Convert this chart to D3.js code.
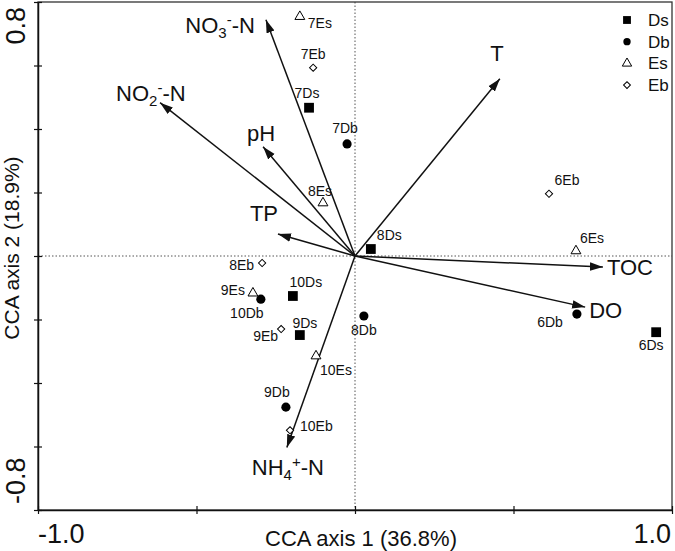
<!DOCTYPE html>
<html>
<head>
<meta charset="utf-8">
<script src="https://cdn.jsdelivr.net/npm/d3@7/dist/d3.min.js"></script>
<style>
  html, body { margin: 0; padding: 0; background: #fff; }
  svg { display: block; font-family: "Liberation Sans", Arial, sans-serif; }
</style>
</head>
<body>
<svg id="chart" width="675" height="551"></svg>
<script>
// ---------- DATA ----------
const sampleNames = ["7Es","7Eb","7Ds","7Db","8Es","8Ds","8Db","8Eb","9Es","10Db","10Ds","9Eb","9Ds","10Es","9Db","10Eb","6Eb","6Es","6Db","6Ds"];
const sampleGroups = ["Es","Eb","Ds","Db","Es","Ds","Db","Eb","Es","Db","Ds","Eb","Ds","Es","Db","Eb","Eb","Es","Db","Ds"];
const sampleAxis1 = [-0.174,-0.132,-0.145,-0.025,-0.101,0.050,0.028,-0.293,-0.322,-0.297,-0.196,-0.233,-0.174,-0.123,-0.218,-0.205,0.612,0.697,0.700,0.950];
const sampleAxis2 = [0.754,0.593,0.467,0.353,0.167,0.022,-0.189,-0.022,-0.117,-0.136,-0.126,-0.230,-0.249,-0.315,-0.476,-0.549,0.196,0.016,-0.183,-0.240];

const envNames = ["NO3","NO2","pH","T","TP","TOC","DO","NH4"];
const envAxis1 = [-0.281,-0.615,-0.290,0.457,-0.243,0.782,0.726,-0.215];
const envAxis2 = [0.744,0.483,0.344,0.558,0.069,-0.035,-0.161,-0.603];
// label text parts: [text, kind]  kind: "" normal, "sub", "sup"
const envLabelParts = [
  [["NO",""],["3","sub"],["-","sup"],["-N",""]],
  [["NO",""],["2","sub"],["-","sup"],["-N",""]],
  [["pH",""]],
  [["T",""]],
  [["TP",""]],
  [["TOC",""]],
  [["DO",""]],
  [["NH",""],["4","sub"],["+","sup"],["-N",""]]
];

const legendGroups = ["Ds","Db","Es","Eb"];
const xTickValues = [-1,-0.5,0,0.5,1];
const yTickValues = [-0.8,-0.6,-0.4,-0.2,0,0.2,0.4,0.6,0.8];
const xEndLabels = ["-1.0","1.0"];
const yEndLabels = ["-0.8","0.8"];
const xTitle = "CCA axis 1 (36.8%)";
const yTitle = "CCA axis 2 (18.9%)";

// ---------- LAYOUT (label offsets in px: dx, dy, anchor) ----------
const sampleLabelLayout = {
  "7Es":[8,11,"start"], "7Eb":[0,-9,"middle"], "7Ds":[-2,-10,"middle"], "7Db":[-2,-11,"middle"],
  "8Es":[-3,-7,"middle"], "8Ds":[6,-9,"start"], "8Db":[0,19,"middle"], "8Eb":[-8,7,"end"],
  "9Es":[-8,2,"end"], "10Db":[-14,19,"middle"], "10Ds":[13,-9,"middle"], "9Eb":[-3,12,"end"],
  "9Ds":[5,-7,"middle"], "10Es":[4,19,"start"], "9Db":[-9,-10,"middle"], "10Eb":[10,1,"start"],
  "6Eb":[18,-9,"middle"], "6Es":[16,-8,"middle"], "6Db":[-14,13,"end"], "6Ds":[-5,18,"middle"]
};
const envLabelLayout = {
  "NO3":[-11,13,"end"], "NO2":[-44,-2,"start"], "pH":[-2,-6,"middle"], "T":[-3,-18,"middle"],
  "TP":[-14,-13,"middle"], "TOC":[4,8,"start"], "DO":[4,11,"start"], "NH4":[1,28,"middle"]
};

// ---------- CHART ----------
const svg = d3.select("#chart");
const x = d3.scaleLinear().domain([-1, 1]).range([38, 672]);
const y = d3.scaleLinear().domain([-0.8, 0.8]).range([510, 2]);
const ink = "#111";

// dotted zero lines
svg.append("line").attr("x1", x(-1)).attr("x2", x(1)).attr("y1", y(0)).attr("y2", y(0))
  .attr("stroke", "#555").attr("stroke-width", 1).attr("stroke-dasharray", "1.5,2");
svg.append("line").attr("x1", x(0)).attr("x2", x(0)).attr("y1", y(0.8)).attr("y2", y(-0.8))
  .attr("stroke", "#555").attr("stroke-width", 1).attr("stroke-dasharray", "1.5,2");

// frame
svg.append("rect").attr("x", x(-1)).attr("y", y(0.8)).attr("width", x(1) - x(-1)).attr("height", y(-0.8) - y(0.8))
  .attr("fill", "none").attr("stroke", "#333").attr("stroke-width", 1.3);

// axes with crossing ticks
const gx = svg.append("g").attr("transform", `translate(0,${y(-0.8)})`)
  .call(d3.axisBottom(x).tickValues(xTickValues).tickFormat("").tickSizeOuter(0));
gx.selectAll(".tick line").attr("y1", -4).attr("y2", 4).attr("stroke", ink).attr("stroke-width", 1.2);
gx.select(".domain").attr("stroke", ink).attr("stroke-width", 1.5);
const gy = svg.append("g").attr("transform", `translate(${x(-1)},0)`)
  .call(d3.axisLeft(y).tickValues(yTickValues).tickFormat("").tickSizeOuter(0));
gy.selectAll(".tick line").attr("x1", -4).attr("x2", 4).attr("stroke", ink).attr("stroke-width", 1.2);
gy.select(".domain").attr("stroke", ink).attr("stroke-width", 1.5);

// end tick labels
svg.append("text").attr("x", x(-1)).attr("y", 543).attr("text-anchor", "start")
  .attr("font-size", 27).attr("fill", ink).text(xEndLabels[0]);
svg.append("text").attr("x", x(1) - 1).attr("y", 543).attr("text-anchor", "end")
  .attr("font-size", 27).attr("fill", ink).text(xEndLabels[1]);
svg.append("text").attr("transform", `translate(25,${y(-0.8) - 6}) rotate(-90)`).attr("text-anchor", "start")
  .attr("font-size", 27).attr("fill", ink).text(yEndLabels[0]);
svg.append("text").attr("transform", `translate(25,${y(0.8) + 5}) rotate(-90)`).attr("text-anchor", "end")
  .attr("font-size", 27).attr("fill", ink).text(yEndLabels[1]);

// axis titles
svg.append("text").attr("x", x(0) + 6).attr("y", 546).attr("text-anchor", "middle")
  .attr("font-size", 22).attr("fill", ink).text(xTitle);
svg.append("text").attr("transform", `translate(19,${y(0) - 8}) rotate(-90)`).attr("text-anchor", "middle")
  .attr("font-size", 21).attr("fill", ink).text(yTitle);

// arrowhead marker
svg.append("defs").append("marker").attr("id", "arr")
  .attr("markerUnits", "userSpaceOnUse").attr("viewBox", "0 -5 13 10")
  .attr("refX", 13).attr("refY", 0).attr("markerWidth", 13).attr("markerHeight", 10)
  .attr("orient", "auto")
  .append("path").attr("d", "M0,-4.2L13,0L0,4.2Z").attr("fill", ink);

// environmental vectors
envNames.forEach((n, i) => {
  svg.append("line").attr("x1", x(0)).attr("y1", y(0)).attr("x2", x(envAxis1[i])).attr("y2", y(envAxis2[i]))
    .attr("stroke", ink).attr("stroke-width", 1.5).attr("marker-end", "url(#arr)");
});
const shifts = { "": 0, "sub": 5, "sup": -8 };
envNames.forEach((n, i) => {
  const [dx, dy, anchor] = envLabelLayout[n];
  const t = svg.append("text").attr("x", x(envAxis1[i]) + dx).attr("y", y(envAxis2[i]) + dy)
    .attr("text-anchor", anchor).attr("font-size", 22).attr("fill", ink);
  let cur = 0;
  envLabelParts[i].forEach(([txt, kind]) => {
    const target = shifts[kind];
    t.append("tspan").attr("dy", target - cur).attr("font-size", kind ? 15 : 22).text(txt);
    cur = target;
  });
});

// symbols
function drawSymbol(sel, group, cx, cy, scale) {
  const s = scale || 1;
  if (group === "Ds") {
    sel.append("path").attr("d", d3.symbol(d3.symbolSquare, 96 * s * s)())
      .attr("transform", `translate(${cx},${cy})`).attr("fill", "#000");
  } else if (group === "Db") {
    sel.append("path").attr("d", d3.symbol(d3.symbolCircle, 66 * s * s)())
      .attr("transform", `translate(${cx},${cy})`).attr("fill", "#000");
  } else if (group === "Es") {
    sel.append("path").attr("d", d3.symbol(d3.symbolTriangle, 42 * s * s)())
      .attr("transform", `translate(${cx},${cy})`).attr("fill", "#fff").attr("stroke", "#000").attr("stroke-width", 1);
  } else {
    sel.append("path").attr("d", d3.symbol(d3.symbolSquare, 26 * s * s)())
      .attr("transform", `translate(${cx},${cy}) rotate(45)`).attr("fill", "#fff").attr("stroke", "#000").attr("stroke-width", 1);
  }
}

const pts = svg.append("g");
sampleNames.forEach((n, i) => {
  drawSymbol(pts, sampleGroups[i], x(sampleAxis1[i]), y(sampleAxis2[i]));
});
sampleNames.forEach((n, i) => {
  const [dx, dy, anchor] = sampleLabelLayout[n];
  svg.append("text").attr("x", x(sampleAxis1[i]) + dx).attr("y", y(sampleAxis2[i]) + dy)
    .attr("text-anchor", anchor).attr("font-size", 14).attr("fill", ink).text(n);
});

// legend
const lg = svg.append("g");
legendGroups.forEach((g, i) => {
  const cy = 20 + i * 21.7;
  drawSymbol(lg, g, 627, cy, g === "Eb" || g === "Es" ? 0.95 : 0.8);
  lg.append("text").attr("x", 648).attr("y", cy + 6).attr("font-size", 17).attr("fill", ink).text(g);
});
</script>
</body>
</html>
